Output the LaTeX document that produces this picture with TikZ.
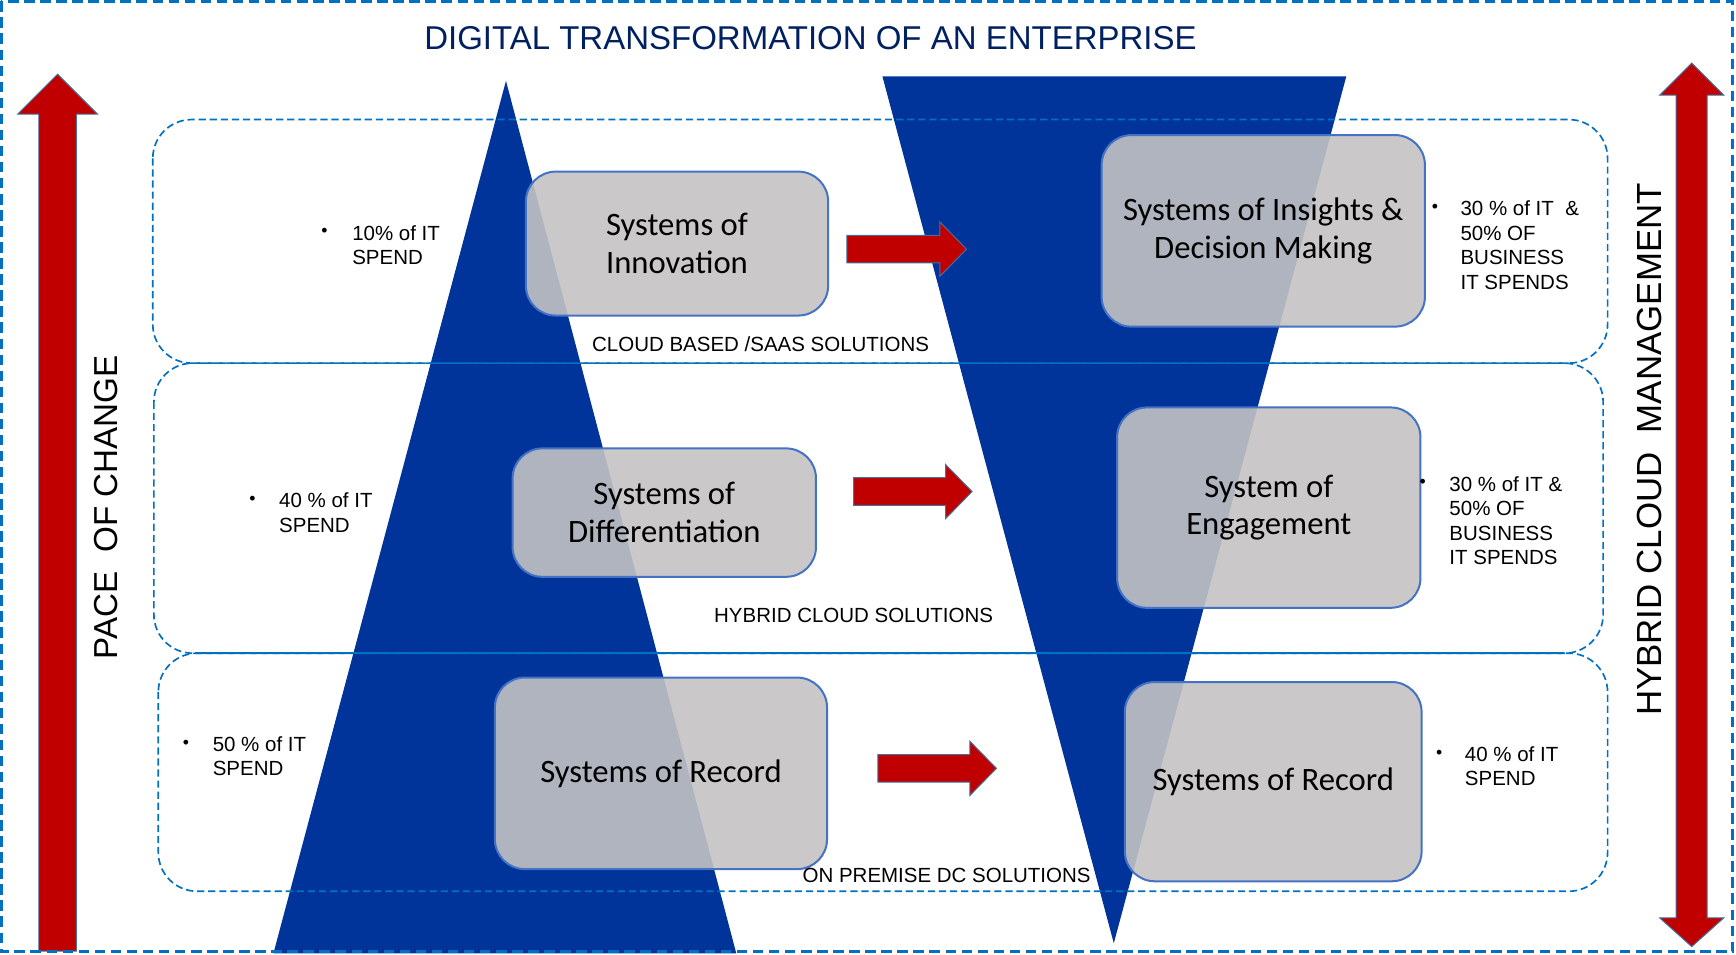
\documentclass[tikz,border=0pt]{standalone}
\usepackage{fontspec}
\setmainfont{Liberation Sans}
\newfontfamily\calfont{Carlito}
\definecolor{dashblue}{HTML}{0070C0}
\definecolor{triblue}{RGB}{0,52,154}
\definecolor{boxblue}{HTML}{4472C4}
\definecolor{boxgray}{RGB}{196,194,195}
\definecolor{arrred}{HTML}{C00000}
\definecolor{arrborder}{HTML}{41719C}
\definecolor{titleblue}{HTML}{002060}
\newcommand\blockarr[4]{% name, x start, x end, y centre
  \draw[blockarrow] (#2,#4-12.5) -- (#3-24,#4-12.5) -- (#3-24,#4-24.5) -- (#3,#4)
    -- (#3-24,#4+24.5) -- (#3-24,#4+12.5) -- (#2,#4+12.5) -- cycle;
  \coordinate (#1) at (#2,#4);}
\begin{document}
\begin{tikzpicture}[x=1pt,y=-1pt,
  framebox/.style={draw=dashblue,line width=2.5pt,dash pattern=on 9.5pt off 5pt},
  rowbox/.style={draw=dashblue,line width=1.5pt,dash pattern=on 6.5pt off 3.5pt,rounded corners=35pt},
  sysbox/.style={draw=boxblue,line width=1.8pt,fill=boxgray,fill opacity=0.9,text opacity=1,
    rounded corners=27pt,inner sep=0pt,align=center,font=\calfont\fontsize{29.5}{34}\selectfont},
  blockarrow/.style={fill=arrred,draw=arrborder,line width=0.9pt},
  tri/.style={fill=triblue},
  notetext/.style={font=\fontsize{18.5}{22.2}\selectfont,align=left,inner sep=0pt,anchor=north west},
  bulletdot/.style={font=\fontsize{16}{20}\selectfont,inner sep=0pt},
  bandlabel/.style={font=\fontsize{18.5}{22.2}\selectfont,inner sep=0pt},
  sidetext/.style={rotate=90,inner sep=0pt},
]
\useasboundingbox (0,0) rectangle (1568,862);

% triangles
\fill[tri] (457,73) -- (665,861) -- (247,861) -- cycle;
\fill[tri] (797,69) -- (1216,69) -- (1006,852) -- cycle;

% bands
\draw[rowbox] (138,108) rectangle (1452,328);
\draw[rowbox] (139,328) rectangle (1448,590);
\draw[rowbox] (143,590) rectangle (1452,805);
\draw[draw=dashblue,line width=1.5pt] (176,590) -- (1413,590);

% system boxes
\node[sysbox,minimum width=273pt,minimum height=130pt] (b1) at (611.5,220) {Systems of\\Innovation};
\node[sysbox,minimum width=292pt,minimum height=173pt] (b2) at (1141,208.5) {Systems of Insights \&\\Decision Making};
\node[sysbox,minimum width=274pt,minimum height=116pt] (b3) at (600,463) {Systems of\\Differentiation};
\node[sysbox,minimum width=274pt,minimum height=181pt] (b4) at (1146,458.5) {System of\\Engagement};
\node[sysbox,minimum width=300pt,minimum height=173pt] (b5) at (597,698.5) {Systems of Record};
\node[sysbox,minimum width=268pt,minimum height=180pt] (b6) at (1150,706) {Systems of Record};

% red block arrows
\blockarr{a1}{765}{873}{225}
\blockarr{a2}{771}{878}{444}
\blockarr{a3}{793}{900}{694}

% side arrows
\draw[blockarrow] (52,67) -- (88,103) -- (69,103) -- (69,859) -- (35,859) -- (35,103) -- (16,103) -- cycle;
\draw[blockarrow] (1528,57) -- (1557,86) -- (1542,86) -- (1542,829) -- (1557,829) -- (1528,855)
  -- (1499,829) -- (1514,829) -- (1514,86) -- (1499,86) -- cycle;

% title and side texts
\node[font=\fontsize{29.8}{35}\selectfont,text=titleblue,inner sep=0pt] (title) at (732,34) {DIGITAL TRANSFORMATION OF AN ENTERPRISE};
\node[sidetext,font=\fontsize{30}{36}\selectfont] (pace) at (96,458) {PACE\ \ OF CHANGE};
\node[sidetext,font=\fontsize{31.5}{36}\selectfont] (hcm) at (1490,406) {HYBRID CLOUD\ \ MANAGEMENT};

% bullet notes
\node[bulletdot] (d1) at (293,210) {•};
\node[notetext] (n1) at (318,203.5) {10\% of IT\\SPEND};
\node[bulletdot] (d2) at (228,452) {•};
\node[notetext] (n2) at (252,445) {40 \% of IT\\SPEND};
\node[bulletdot] (d3) at (168,672) {•};
\node[notetext] (n3) at (192,665) {50 \% of IT\\SPEND};
\node[bulletdot] (d4) at (1296,188) {•};
\node[notetext] (n4) at (1319,181) {30 \% of IT\ \ \&\\50\% OF\\BUSINESS\\IT SPENDS};
\node[bulletdot] (d5) at (1285,437) {•};
\node[notetext] (n5) at (1309,430) {30 \% of IT \&\\50\% OF\\BUSINESS\\IT SPENDS};
\node[bulletdot] (d6) at (1300,681) {•};
\node[notetext] (n6) at (1323,674) {40 \% of IT\\SPEND};

% band labels
\node[bandlabel] (l1) at (687,311) {CLOUD BASED /SAAS SOLUTIONS};
\node[bandlabel] (l2) at (771,556) {HYBRID CLOUD SOLUTIONS};
\node[bandlabel] (l3) at (855,791) {ON PREMISE DC SOLUTIONS};

% outer frame
\draw[framebox] (1.25,1.25) rectangle (1565,859.5);
\end{tikzpicture}
\end{document}
